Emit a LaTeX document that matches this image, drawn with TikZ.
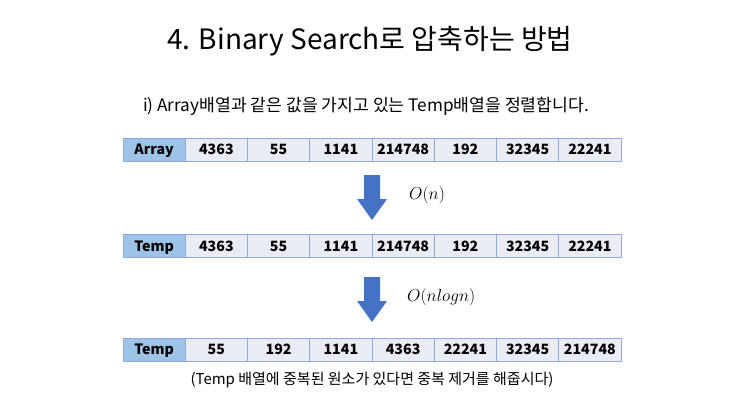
\documentclass[tikz,border=0pt]{standalone}
\usepackage{fontspec}
\setmainfont{Noto Sans CJK KR}
\newfontfamily\kr{Noto Sans CJK KR}
\usetikzlibrary{positioning}
\definecolor{hdr}{HTML}{9DC3E6}
\definecolor{cellc}{HTML}{E9EBF5}
\definecolor{bord}{HTML}{8FAADC}
\definecolor{arr}{HTML}{4472C4}
\tikzset{
  cellbox/.style={draw=bord, line width=0.8pt, fill=cellc, minimum width=62.25pt, minimum height=23pt, inner sep=0pt, outer sep=0pt, anchor=west, text height=10.8pt, text depth=-1pt, font=\kr\bfseries\fontsize{14.2}{14}\selectfont},
  hdrbox/.style={cellbox, fill=hdr},
  arrowfill/.style={fill=arr, draw=none},
  mathlbl/.style={font=\fontsize{17}{17}\selectfont, inner sep=0pt}
}
\begin{document}
\begin{tikzpicture}[x=1pt,y=-1pt]
\useasboundingbox (0,0) rectangle (743,418);
\node[font=\kr\fontsize{28}{28}\selectfont, inner sep=0pt] (title) at (370,41) {4. Binary Search로 압축하는 방법};
\node[font=\kr\fontsize{17.2}{17}\selectfont, inner sep=0pt] (sub) at (366,106) {i) Array배열과 같은 값을 가지고 있는 Temp배열을 정렬합니다.};
% rows
\foreach \r/\y/\h/\vals in {a/149.5/Array/{4363,55,1141,214748,192,32345,22241},
                             t/246/Temp/{4363,55,1141,214748,192,32345,22241},
                             s/349.5/Temp/{55,192,1141,4363,22241,32345,214748}}{
  \node[hdrbox] (\r0) at (123,\y) {\h};
  \foreach \v [count=\i] in \vals {
    \pgfmathtruncatemacro{\j}{\i-1}
    \node[cellbox] (\r\i) at (\r\j.east) {\v};
  }
}
% arrows
\coordinate (ar1) at (372,175);
\coordinate (ar2) at (372,277);
\foreach \c in {ar1,ar2}{
  \fill[arrowfill] (\c) ++(-8,0) -- ++(16,0) -- ++(0,24) -- ++(7,0) -- ++(-15,21) -- ++(-15,-21) -- ++(7,0) -- cycle;
}
\node[mathlbl, anchor=west] (on) at (409,195) {$O(n)$};
\node[mathlbl, anchor=west] (onl) at (407,297) {$O(nlogn)$};
\node[font=\kr\fontsize{15}{15}\selectfont, inner sep=0pt] (foot) at (372,380) {(Temp 배열에 중복된 원소가 있다면 중복 제거를 해줍시다)};
\end{tikzpicture}
\end{document}
